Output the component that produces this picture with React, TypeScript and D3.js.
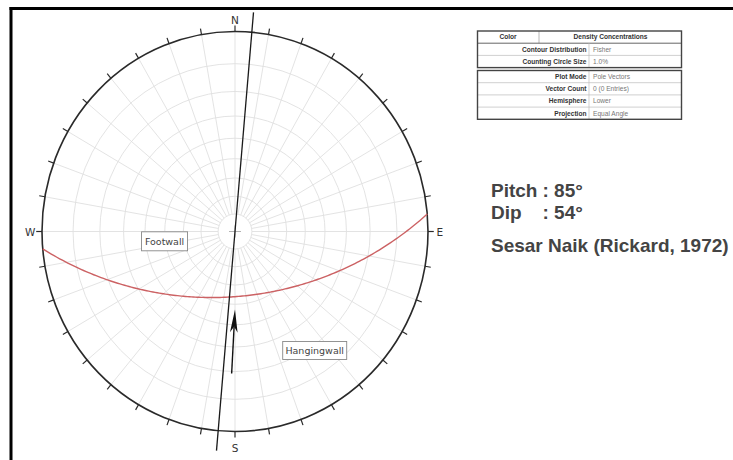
import * as React from 'react';
import * as d3 from 'd3';

// polar net (equal angle), 10° steps
const gridPlunges = [80, 70, 60, 50, 40, 30, 20, 10];
const gridAzimuths = [0, 10, 20, 30, 40, 50, 60, 70, 80, 90, 100, 110, 120, 130, 140, 150, 160, 170,
    180, 190, 200, 210, 220, 230, 240, 250, 260, 270, 280, 290, 300, 310, 320, 330, 340, 350];
const compassLabels = ['N', 'E', 'S', 'W'];
const compassAzimuths = [0, 90, 180, 270];

// fault plane
const planeStrike = 85;
const planeDip = 54;
const slipLineTrend = 5;
const arrowTrends = [181.4, 180];
const arrowRadii = [0.71, 0.39];

const pitchValue = 85;
const dipValue = 54;
const title = 'Sesar Naik (Rickard, 1972)';

const tableTopRows = [
    ['Color', 'Density Concentrations'],
    ['Contour Distribution', 'Fisher'],
    ['Counting Circle Size', '1.0%'],
];
const tableBottomRows = [
    ['Plot Mode', 'Pole Vectors'],
    ['Vector Count', '0 (0 Entries)'],
    ['Hemisphere', 'Lower'],
    ['Projection', 'Equal Angle'],
];

const W = 733;
const H = 460;
const cx = 235;
const cy = 231.5;
const rx = 193;
const ry = 200;
const rad = Math.PI / 180;

const x = d3.scaleLinear().domain([-1, 1]).range([cx - rx, cx + rx]);
const y = d3.scaleLinear().domain([-1, 1]).range([cy + ry, cy - ry]);

// equal angle radius for a plunge
const eqAngle = (plunge: number) => Math.tan((90 - plunge) / 2 * rad);
const px = (az: number, r: number) => x(r * Math.sin(az * rad));
const py = (az: number, r: number) => y(r * Math.cos(az * rad));

function greatCircle(strike: number, dip: number): [number, number][] {
    const dd = strike + 90;
    const s = [Math.sin(strike * rad), Math.cos(strike * rad), 0];
    const d = [Math.sin(dd * rad) * Math.cos(dip * rad), Math.cos(dd * rad) * Math.cos(dip * rad), Math.sin(dip * rad)];
    return d3.range(0, 180.5, 1).map((t) => {
        const c = Math.cos(t * rad);
        const sn = Math.sin(t * rad);
        const v = [c * s[0] + sn * d[0], c * s[1] + sn * d[1], c * s[2] + sn * d[2]];
        const plunge = Math.asin(Math.max(-1, Math.min(1, v[2]))) / rad;
        const trend = Math.atan2(v[0], v[1]) / rad;
        const r = eqAngle(plunge);
        return [px(trend, r), py(trend, r)];
    });
}

const gridColor = '#e0e0e0';
const dark = '#2a2a2a';

function Table({top, rows}: {top: number; rows: string[][]}) {
    const left = 477.5;
    const right = 681.5;
    const split = 589;
    const rowH = 12.2;
    const hasHeader = rows[0][0] === 'Color';
    return (
        <g fontFamily='"Liberation Sans", Arial, sans-serif' fontSize={6.6}>
            {rows.map((row, i) => {
                const y0 = top + i * rowH;
                const header = hasHeader && i === 0;
                return (
                    <g key={i}>
                        {i > 0 && <line x1={left} x2={right} y1={y0} y2={y0} stroke={hasHeader && i === 1 ? '#666' : '#bbb'} strokeWidth={hasHeader && i === 1 ? 1 : 0.7} />}
                        {header ? (
                            <>
                                <line x1={539} x2={539} y1={y0} y2={y0 + rowH} stroke='#999' strokeWidth={0.7} />
                                <text x={508} y={y0 + 8.4} textAnchor='middle' fontWeight='bold' fill='#333'>{row[0]}</text>
                                <text x={610.5} y={y0 + 8.4} textAnchor='middle' fontWeight='bold' fill='#333'>{row[1]}</text>
                            </>
                        ) : (
                            <>
                                <line x1={split} x2={split} y1={y0} y2={y0 + rowH} stroke='#bbb' strokeWidth={0.7} />
                                <text x={split - 2.5} y={y0 + 8.4} textAnchor='end' fontWeight='bold' fill='#333'>{row[0]}</text>
                                <text x={split + 4} y={y0 + 8.4} fill='#777'>{row[1]}</text>
                            </>
                        )}
                    </g>
                );
            })}
            <rect x={left} y={top} width={right - left} height={rows.length * rowH} fill='none' stroke='#444' strokeWidth={1.4} />
        </g>
    );
}

export default function App() {
    const innerR = eqAngle(gridPlunges[0]);
    const line = d3.line<[number, number]>();
    const arc = greatCircle(planeStrike, planeDip);

    // slip arrow
    const tx = px(arrowTrends[1], arrowRadii[1]);
    const ty = py(arrowTrends[1], arrowRadii[1]);
    const sx = px(arrowTrends[0], arrowRadii[0]);
    const sy = py(arrowTrends[0], arrowRadii[0]);
    const len = Math.hypot(tx - sx, ty - sy);
    const ux = (tx - sx) / len;
    const uy = (ty - sy) / len;
    const nx = -uy;
    const ny = ux;
    const headL = 23;
    const headW = 3.8;
    const notch = 17;
    const head = [
        [tx, ty],
        [tx - ux * headL + nx * headW, ty - uy * headL + ny * headW],
        [tx - ux * notch, ty - uy * notch],
        [tx - ux * headL - nx * headW, ty - uy * headL - ny * headW],
    ];

    const labelPos = (az: number) => {
        if (az === 0) return {x: px(az, 1), y: py(az, 1) - 8, anchor: 'middle'};
        if (az === 180) return {x: px(az, 1), y: py(az, 1) + 20, anchor: 'middle'};
        if (az === 90) return {x: px(az, 1) + 8.5, y: py(az, 1) + 4, anchor: 'start'};
        return {x: px(az, 1) - 6.5, y: py(az, 1) + 4, anchor: 'end'};
    };

    return (
        <svg width={W} height={H} style={{position: 'absolute', left: 0, top: 0, background: '#fff'}}>
            <rect x={0} y={0} width={W} height={H} fill='#fff' />
            {/* frame */}
            <line x1={11} x2={11} y1={7} y2={H} stroke='#000' strokeWidth={3} />
            <line x1={9.5} x2={W} y1={8.5} y2={8.5} stroke='#000' strokeWidth={3} />

            {/* polar grid */}
            <g fill='none' stroke={gridColor} strokeWidth={0.9}>
                {gridPlunges.map((p) => (
                    <ellipse key={p} cx={x(0)} cy={y(0)} rx={x(eqAngle(p)) - x(0)} ry={y(0) - y(eqAngle(p))} />
                ))}
                {gridAzimuths.map((az) => (
                    <line key={az} x1={px(az, innerR)} y1={py(az, innerR)} x2={px(az, 1)} y2={py(az, 1)} />
                ))}
            </g>
            <g stroke='#aaa' strokeWidth={0.9}>
                <line x1={x(0) - 6} x2={x(0) + 6} y1={y(0)} y2={y(0)} />
                <line x1={x(0)} x2={x(0)} y1={y(0) - 6} y2={y(0) + 6} />
            </g>

            {/* primitive + ticks */}
            <ellipse cx={x(0)} cy={y(0)} rx={rx} ry={ry} fill='none' stroke={dark} strokeWidth={1.6} />
            <g stroke={dark} strokeWidth={1.2}>
                {gridAzimuths.map((az) => (
                    <line key={az} x1={px(az, 1)} y1={py(az, 1)} x2={px(az, 1.03)} y2={py(az, 1.03)} />
                ))}
            </g>
            <g fontFamily='"DejaVu Sans", sans-serif' fontSize={10.5} fill='#333'>
                {compassAzimuths.map((az, i) => {
                    const p = labelPos(az);
                    return <text key={az} x={p.x} y={p.y} textAnchor={p.anchor as any}>{compassLabels[i]}</text>;
                })}
            </g>

            {/* fault plane great circle */}
            <path d={line(arc) || ''} fill='none' stroke='#cc6264' strokeWidth={1.4} />

            {/* slip line */}
            <line x1={px(slipLineTrend, 1.1)} y1={py(slipLineTrend, 1.1)} x2={px(slipLineTrend + 180, 1.1)} y2={py(slipLineTrend + 180, 1.1)}
                stroke='#1a1a1a' strokeWidth={1.3} />

            {/* slip arrow */}
            <line x1={sx} y1={sy} x2={tx - ux * notch} y2={ty - uy * notch} stroke='#111' strokeWidth={1.4} />
            <path d={'M' + head.map((p) => p.join(',')).join('L') + 'Z'} fill='#111' />

            {/* wall labels */}
            <g fontFamily='"DejaVu Sans", sans-serif' fontSize={9.5} fill='#444'>
                <rect x={x(-0.365) - 23} y={y(-0.049) - 9.5} width={46} height={19} fill='#fff' stroke='#888' strokeWidth={0.9} />
                <text x={x(-0.365)} y={y(-0.049) + 3.4} textAnchor='middle'>Footwall</text>
                <rect x={x(0.413) - 32} y={y(-0.595) - 9} width={64} height={18} fill='#fff' stroke='#888' strokeWidth={0.9} />
                <text x={x(0.413)} y={y(-0.595) + 3.4} textAnchor='middle'>Hangingwall</text>
            </g>

            {/* info */}
            <Table top={31} rows={tableTopRows} />
            <Table top={70.5} rows={tableBottomRows} />

            <g fontFamily='"Liberation Sans", Arial, sans-serif' fontSize={19} fontWeight='bold' fill='#444'>
                <text x={491} y={197}>Pitch</text>
                <text x={542.5} y={197}>{`: ${pitchValue}°`}</text>
                <text x={491} y={219}>Dip</text>
                <text x={542.5} y={219}>{`: ${dipValue}°`}</text>
                <text x={491} y={252}>{title}</text>
            </g>
        </svg>
    );
}
